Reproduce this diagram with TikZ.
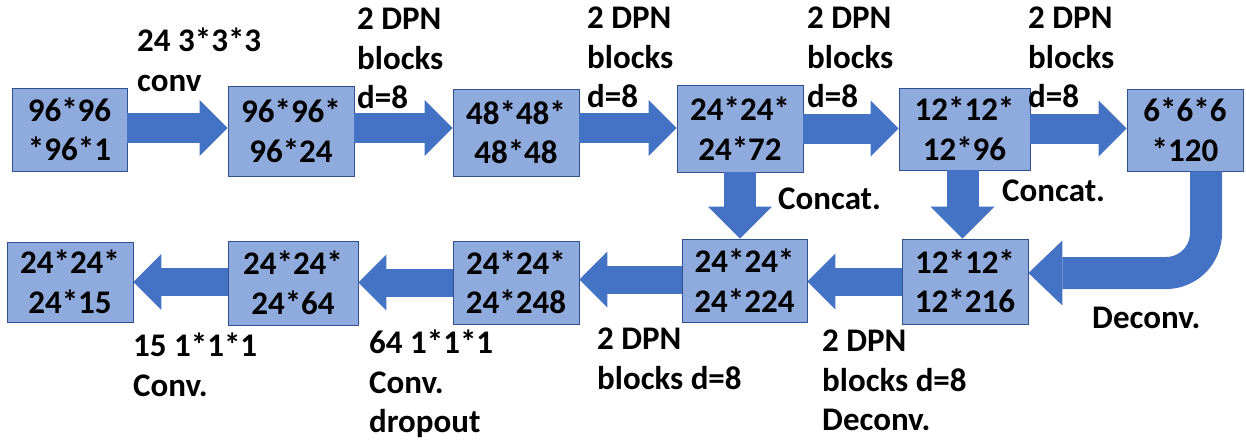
\documentclass[tikz,border=0pt]{standalone}
\usepackage{fontspec}
\setmainfont{Carlito}
\usetikzlibrary{arrows.meta,calc}
\definecolor{boxfill}{HTML}{8FAADC}
\definecolor{boxline}{HTML}{2F528F}
\definecolor{arrowblue}{HTML}{4472C4}
\tikzset{
  blk/.style={draw=boxline, fill=boxfill, line width=0.8pt, inner sep=0pt, align=center},
  lbl/.style={anchor=north west, inner sep=0pt, align=left},
  fatH/.style={draw=arrowblue, line width=30pt, -{Triangle[length=28pt,width=56pt,line width=0pt,fill=arrowblue]}},
  fatB/.style={draw=arrowblue, line width=28pt, -{Triangle[length=28pt,width=56pt,line width=0pt,fill=arrowblue]}},
  fatV/.style={draw=arrowblue, line width=32pt, -{Triangle[length=32pt,width=64pt,line width=0pt,fill=arrowblue]}},
  fatU/.style={draw=arrowblue, line width=32pt, rounded corners=40pt, -{Triangle[length=34pt,width=65pt,line width=0pt,fill=arrowblue]}}
}
\begin{document}
\begin{tikzpicture}[x=1pt, y=-1pt, font=\fontsize{33}{39.5}\selectfont\bfseries]
\useasboundingbox (0,0) rectangle (1246,439);
% top row
\node[blk, minimum width=115pt, minimum height=83pt] (b1) at (69.5,129.5) {96*96\\*96*1};
\node[blk, minimum width=126pt, minimum height=90pt] (b2) at (291,131) {96*96*\\96*24};
\node[blk, minimum width=126pt, minimum height=87pt] (b3) at (516,132.5) {48*48*\\48*48};
\node[blk, minimum width=126pt, minimum height=87pt] (b4) at (740,128.5) {24*24*\\24*72};
\node[blk, minimum width=131pt, minimum height=82pt] (b5) at (964.5,129) {12*12*\\12*96};
\node[blk, minimum width=116pt, minimum height=82pt] (b6) at (1185,130) {6*6*6\\*120};
% bottom row
\node[blk, minimum width=126pt, minimum height=80pt] (c1) at (70,282) {24*24*\\24*15};
\node[blk, minimum width=130pt, minimum height=84pt] (c2) at (293,283) {24*24*\\24*64};
\node[blk, minimum width=126pt, minimum height=83pt] (c3) at (516,282.5) {24*24*\\24*248};
\node[blk, minimum width=125pt, minimum height=83pt] (c4) at (744.5,280.5) {24*24*\\24*224};
\node[blk, minimum width=126pt, minimum height=85pt] (c5) at (965,281.5) {12*12*\\12*216};
% top arrows
\draw[fatH] ([yshift=1.5pt]b1.east) -- ([yshift=1.5pt]b1.east -| b2.west);
\draw[fatH] ([yshift=3pt]b2.east) -- ([yshift=3pt]b2.east -| b3.west);
\draw[fatH] ([yshift=4.5pt]b3.east) -- ([yshift=4.5pt]b3.east -| b4.west);
\draw[fatH] (b4.east) -- (b4.east -| b5.west);
\draw[fatH] ([yshift=0.5pt]b5.east) -- ([yshift=0.5pt]b5.east -| b6.west);
% concat arrows
\draw[fatV] (b4.south) -- (b4.south |- c4.north);
\draw[fatV] ([xshift=-2pt]b5.south) -- ([xshift=-2pt]b5.south |- c5.north);
% deconv U-turn
\draw[fatU] ([xshift=21pt]b6.south) |- ([yshift=8.5pt]c5.east);
% bottom arrows
\draw[fatB] (c5.west) -- (c5.west -| c4.east);
\draw[fatB] ([yshift=1pt]c4.west) -- ([yshift=1pt]c4.west -| c3.east);
\draw[fatB] (c3.west) -- (c3.west -| c2.east);
\draw[fatB] ([yshift=1pt]c2.west) -- ([yshift=1pt]c2.west -| c1.east);
% labels
\node[lbl] (l1) at (137,28) {24 3*3*3\\conv};
\node[lbl] (l2) at (357,8) {2 DPN\\blocks\\d=8};
\node[lbl] (l3) at (587,7) {2 DPN\\blocks\\d=8};
\node[lbl] (l4) at (807,7) {2 DPN\\blocks\\d=8};
\node[lbl] (l5) at (1028,7) {2 DPN\\blocks\\d=8};
\node[lbl] (l6) at (778,188) {Concat.};
\node[lbl] (l7) at (1002,180) {Concat.};
\node[lbl] (l8) at (1092,307) {Deconv.};
\node[lbl] (l9) at (133,333) {15 1*1*1\\Conv.};
\node[lbl] (l10) at (369,330) {64 1*1*1\\Conv.\\dropout};
\node[lbl] (l11) at (597,328) {2 DPN\\blocks d=8};
\node[lbl] (l12) at (822,330) {2 DPN\\blocks d=8\\Deconv.};
\end{tikzpicture}
\end{document}
